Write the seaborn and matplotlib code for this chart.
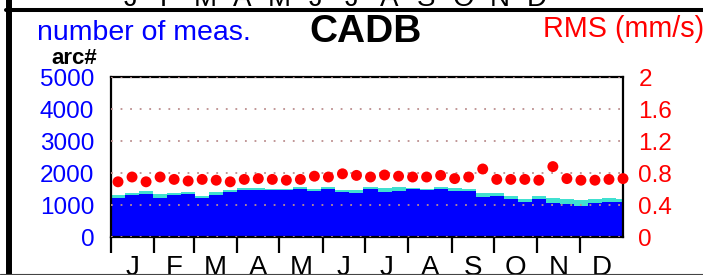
import numpy as np
import pandas as pd
import matplotlib
matplotlib.use("Agg")
import matplotlib.pyplot as plt
from matplotlib.lines import Line2D
import seaborn as sns

# ---------------- data ----------------
bin_day = list(range(5, 366, 10))          # centre day of each 10-day bin
total_meas = [1312, 1384, 1437, 1334, 1384, 1406, 1290, 1406, 1478,
              1531, 1531, 1509, 1509, 1553, 1509, 1572, 1478, 1478,
              1553, 1531, 1553, 1531, 1509, 1572, 1522, 1490,
              1384, 1365, 1272, 1197, 1281, 1219, 1178, 1166, 1197, 1219, 1197]
used_meas = [1209, 1303, 1353, 1228, 1303, 1334, 1209, 1312, 1397,
             1459, 1478, 1459, 1469, 1490, 1437, 1490, 1416, 1390,
             1490, 1416, 1447, 1490, 1459, 1509, 1447, 1428,
             1250, 1272, 1187, 1103, 1197, 1072, 1031, 978, 1053, 1103, 1084]
rms = [0.69, 0.75, 0.69, 0.75, 0.72, 0.70, 0.72, 0.71, 0.69, 0.72,
       0.73, 0.72, 0.71, 0.72, 0.76, 0.75, 0.79, 0.77, 0.75, 0.775,
       0.76, 0.75, 0.75, 0.77, 0.73, 0.75, 0.85, 0.72, 0.72, 0.72,
       0.71, 0.88, 0.73, 0.71, 0.71, 0.72, 0.73]
month_start = [0, 31, 59, 90, 120, 151, 181, 212, 243, 273, 304, 334, 365]
month_labels = ["J", "F", "M", "A", "M", "J", "J", "A", "S", "O", "N", "D"]
left_ticks = [0, 1000, 2000, 3000, 4000, 5000]
right_ticks = [0, 0.4, 0.8, 1.2, 1.6, 2]
right_labels = ["0", "0.4", "0.8", "1.2", "1.6", "2"]

df = pd.DataFrame({"day": bin_day, "total": total_meas,
                   "used": used_meas, "rms": rms})

# ---------------- style ----------------
sns.set_theme(style="white")
plt.rcParams["font.family"] = ["Liberation Sans", "DejaVu Sans"]

W, H = 703, 275
fig = plt.figure(figsize=(W / 100, H / 100), dpi=100)
ax = fig.add_axes([111 / W, 1 - 237 / H, 512 / W, 160 / H])

bins = list(range(0, 371, 10))
sns.histplot(data=df, x="day", weights="total", bins=bins, element="step",
             fill=True, color="#40E0D0", alpha=1, linewidth=0, ax=ax)
sns.histplot(data=df, x="day", weights="used", bins=bins, element="step",
             fill=True, color="#0000FF", alpha=1, linewidth=0, ax=ax)

ax.set_xlim(0, 365)
ax.set_ylim(0, 5000)
ax.set_xlabel("")
ax.set_ylabel("")
ax.set_yticks(left_ticks)
ax.set_yticklabels([str(t) for t in left_ticks])
ax.tick_params(axis="y", length=0, pad=12, labelsize=17.5, labelcolor="#0000FF")

centres = [(a + b) / 2 for a, b in zip(month_start[:-1], month_start[1:])]
ax.set_xticks(month_start[:-1])
ax.set_xticklabels([""] * 12)
ax.set_xticks(centres, minor=True)
ax.set_xticklabels(month_labels, minor=True)
ax.tick_params(axis="x", which="major", direction="out", length=11.5,
               width=1.6, color="black", bottom=True)
ax.tick_params(axis="x", which="minor", length=0, pad=13, labelsize=20,
               labelcolor="black", bottom=True)

ax.set_axisbelow(False)
ax.grid(axis="y", color="#bc8f8f", linestyle=(0, (1, 4.3)), linewidth=1.3)
ax.grid(axis="x", visible=False)
for s in ax.spines.values():
    s.set_color("black")
    s.set_linewidth(1.6)

ax2 = ax.twinx()
sns.scatterplot(data=df, x="day", y="rms", ax=ax2, color="#FF0000", s=62,
                edgecolor="none", linewidth=0, clip_on=False, zorder=5)
ax2.set_ylim(0, 2)
ax2.set_yticks(right_ticks)
ax2.set_yticklabels(right_labels)
ax2.set_ylabel("")
ax2.tick_params(axis="y", length=0, pad=11, labelsize=17.5, labelcolor="#FF0000")
ax2.grid(False)
for s in ax2.spines.values():
    s.set_visible(False)

# ---------------- titles ----------------
fig.text(37 / W, 1 - 40 / H, "number of meas.", color="#0000FF", fontsize=20.5,
         ha="left", va="baseline")
fig.text(365.5 / W, 1 - 42 / H, "CADB", color="black", fontsize=28,
         fontweight="bold", ha="center", va="baseline")
fig.text(543 / W, 1 - 37 / H, "RMS (mm/s)", color="#FF0000", fontsize=20.7,
         ha="left", va="baseline")
fig.text(51 / W, 1 - 64 / H, "arc#", color="black", fontsize=16,
         fontweight="bold", ha="left", va="baseline")

# cropped month labels of the panel above
top_x = [131, 168, 205, 242, 279, 316, 352, 389, 426, 463, 500, 537]
for xp, m in zip(top_x, month_labels):
    fig.text(xp / W, 1 - 6 / H, m, color="black", fontsize=20,
             ha="center", va="baseline")

# panel frame
fig.add_artist(Line2D([9 / W, 9 / W], [0, 1], lw=4.3, color="black",
                      transform=fig.transFigure))
fig.add_artist(Line2D([6 / W, 1], [1 - 10 / H, 1 - 10 / H], lw=2.9,
                      color="black", transform=fig.transFigure))
fig.add_artist(Line2D([0, 1], [1.5 / H, 1.5 / H], lw=0.8, color="#444444",
                      transform=fig.transFigure))

fig.savefig("out.png", dpi=100)
